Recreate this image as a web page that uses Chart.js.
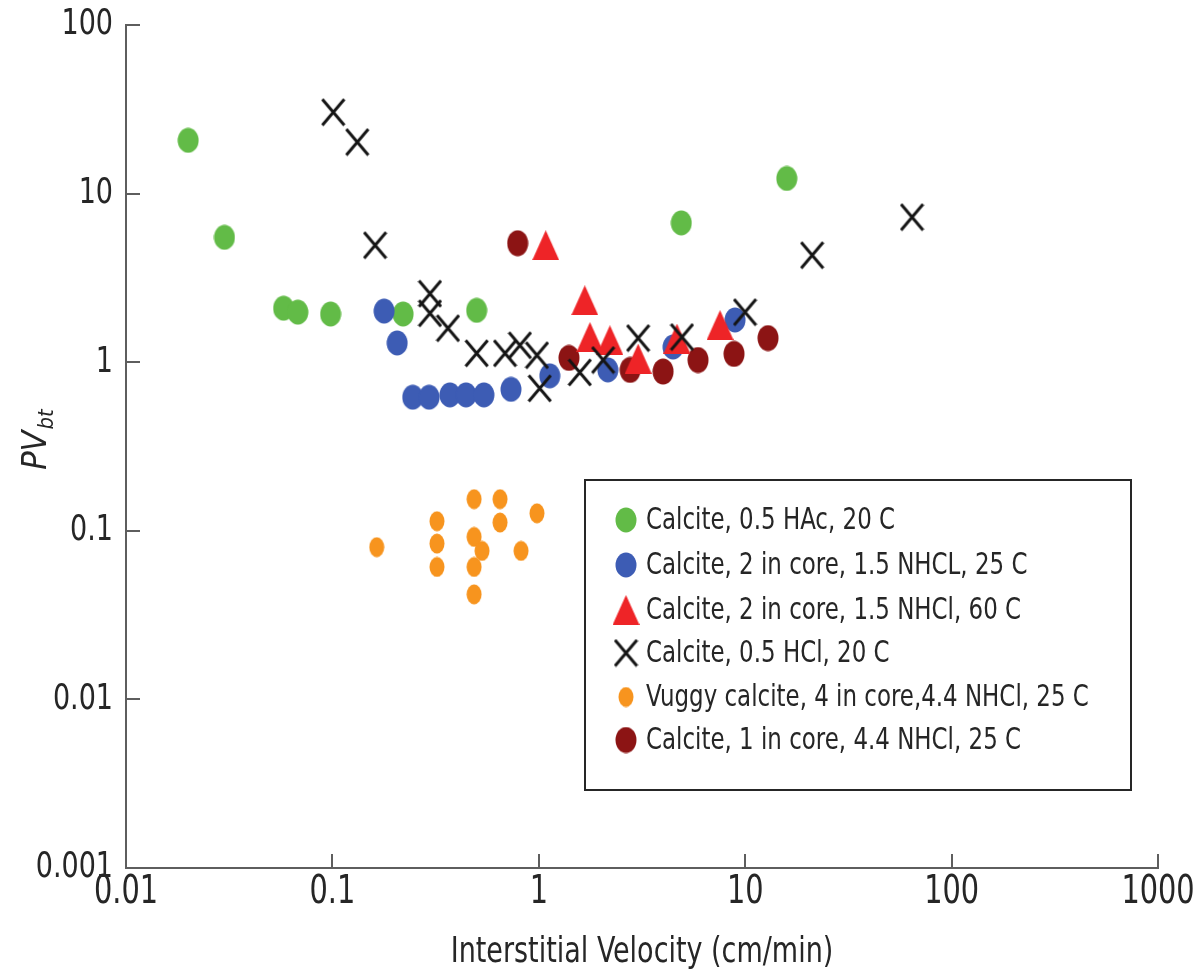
<!DOCTYPE html>
<html>
<head>
<meta charset="utf-8">
<script src="https://cdn.jsdelivr.net/npm/chart.js@4.4.1/dist/chart.umd.min.js"></script>
<style>
  html, body { margin: 0; padding: 0; background: #fff; }
  #wrap { width: 1202px; height: 972px; position: relative; }
</style>
</head>
<body>
<div id="wrap"><canvas id="pvChart"></canvas></div>
<script>
// Pore volumes to breakthrough vs interstitial velocity for calcite cores

// Calcite, 0.5 HAc, 20 C
const hacVelocity = [0.020, 0.030, 0.058, 0.068, 0.098, 0.22, 0.50, 4.9, 15.9];
const hacPV       = [20.7, 5.5, 2.09, 1.98, 1.93, 1.93, 2.03, 6.7, 12.3];

// Calcite, 2 in core, 1.5 NHCL, 25 C
const core2c25Velocity = [0.178, 0.206, 0.245, 0.294, 0.371, 0.444, 0.542, 0.733, 1.13, 2.16, 4.47, 8.93];
const core2c25PV       = [2.01, 1.30, 0.62, 0.62, 0.64, 0.64, 0.64, 0.69, 0.83, 0.90, 1.23, 1.78];

// Calcite, 2 in core, 1.5 NHCl, 60 C
const core2c60Velocity = [1.08, 1.67, 1.77, 2.21, 3.03, 4.67, 7.55];
const core2c60PV       = [4.94, 2.33, 1.41, 1.35, 1.05, 1.38, 1.66];

// Calcite, 0.5 HCl, 20 C
const hclVelocity = [0.101, 0.132, 0.161, 0.297, 0.297, 0.363, 0.50, 0.686, 0.81, 0.98, 1.01, 1.58, 2.05, 3.03, 4.94, 9.98, 21.1, 64.3];
const hclPV       = [30.4, 20.2, 4.94, 2.55, 1.95, 1.59, 1.13, 1.13, 1.26, 1.10, 0.70, 0.87, 1.03, 1.39, 1.41, 1.98, 4.31, 7.25];

// Vuggy calcite, 4 in core, 4.4 NHCl, 25 C
const vuggyVelocity = [0.164, 0.321, 0.321, 0.321, 0.486, 0.486, 0.531, 0.486, 0.486, 0.649, 0.649, 0.82, 0.98];
const vuggyPV       = [0.080, 0.114, 0.084, 0.061, 0.154, 0.092, 0.076, 0.061, 0.042, 0.154, 0.112, 0.076, 0.127];

// Calcite, 1 in core, 4.4 NHCl, 25 C
const core1Velocity = [0.79, 1.40, 2.77, 4.00, 5.91, 8.83, 12.9];
const core1PV       = [5.08, 1.06, 0.90, 0.88, 1.03, 1.12, 1.39];

const seriesLabels = [
    'Calcite, 0.5 HAc, 20 C',
    'Calcite, 2 in core, 1.5 NHCL, 25 C',
    'Calcite, 2 in core, 1.5 NHCl, 60 C',
    'Calcite, 0.5 HCl, 20 C',
    'Vuggy calcite, 4 in core,4.4 NHCl, 25 C',
    'Calcite, 1 in core, 4.4 NHCl, 25 C'
];

const xTickValues = [0.01, 0.1, 1, 10, 100, 1000];
const xTickLabels = ['0.01', '0.1', '1', '10', '100', '1000'];
const yTickValues = [0.001, 0.01, 0.1, 1, 10, 100];
const yTickLabels = ['0.001', '0.01', '0.1', '1', '10', '100'];
const xTitle = 'Interstitial Velocity (cm/min)';

const NARROW = '"Liberation Sans Narrow", "DejaVu Sans Condensed", "Arial Narrow", sans-serif';
const AXIS_COLOR = '#5e5e5e';
const TEXT_COLOR = '#262626';
const TEXT_STRETCH = 1.2;   // lettering is set tall and narrow

// Small bitmap markers (slightly taller than wide, like the printed symbols)
function marker(kind, w, h, color) {
    const c = document.createElement('canvas');
    c.width = w;
    c.height = h;
    const g = c.getContext('2d');
    g.fillStyle = color;
    g.strokeStyle = color;
    if (kind === 'ellipse') {
        g.beginPath();
        g.ellipse(w / 2, h / 2, w / 2 - 0.5, h / 2 - 0.5, 0, 0, Math.PI * 2);
        g.fill();
    } else if (kind === 'triangle') {
        g.beginPath();
        g.moveTo(w / 2, 0);
        g.lineTo(w, h);
        g.lineTo(0, h);
        g.closePath();
        g.fill();
    } else if (kind === 'x') {
        g.lineWidth = 3;
        g.beginPath();
        g.moveTo(1.5, 1.5);
        g.lineTo(w - 1.5, h - 1.5);
        g.moveTo(w - 1.5, 1.5);
        g.lineTo(1.5, h - 1.5);
        g.stroke();
    }
    return c;
}

const markers = [
    marker('ellipse', 22, 26, '#62bb47'),
    marker('ellipse', 22, 26, '#3d5cb4'),
    marker('triangle', 27, 30, '#ee2427'),
    marker('x', 25, 29, '#151515'),
    marker('ellipse', 16, 21, '#f7941e'),
    marker('ellipse', 22, 27, '#8c1414')
];

const toPoints = (xs, ys) => xs.map((x, i) => ({ x, y: ys[i] }));

const seriesPoints = [
    toPoints(hacVelocity, hacPV),
    toPoints(core2c25Velocity, core2c25PV),
    toPoints(core2c60Velocity, core2c60PV),
    toPoints(hclVelocity, hclPV),
    toPoints(vuggyVelocity, vuggyPV),
    toPoints(core1Velocity, core1PV)
];

// draw order: crosses on top, vuggy points at the back
const drawOrder = [4, 3, 1, 0, 5, 2];

function tallText(ctx, text, x, y, size, align, style) {
    ctx.save();
    ctx.font = (style ? style + ' ' : '') + size + 'px ' + NARROW;
    ctx.textAlign = align;
    ctx.textBaseline = 'middle';
    ctx.fillStyle = TEXT_COLOR;
    ctx.translate(x, y);
    ctx.scale(1, TEXT_STRETCH);
    ctx.fillText(text, 0, 0);
    ctx.restore();
}

// Inward tick marks, tick labels and x title
const axisDecor = {
    id: 'axisDecor',
    afterDraw(chart) {
        const { ctx, chartArea, scales } = chart;
        ctx.save();
        ctx.strokeStyle = AXIS_COLOR;
        ctx.lineWidth = 2;
        ctx.beginPath();
        xTickValues.forEach(v => {
            const px = Math.round(scales.x.getPixelForValue(v));
            ctx.moveTo(px, chartArea.bottom);
            ctx.lineTo(px, chartArea.bottom - 14);
        });
        yTickValues.forEach(v => {
            const py = Math.round(scales.y.getPixelForValue(v));
            ctx.moveTo(chartArea.left, py);
            ctx.lineTo(chartArea.left + 14, py);
        });
        ctx.stroke();
        ctx.restore();

        xTickValues.forEach((v, i) => {
            tallText(ctx, xTickLabels[i], scales.x.getPixelForValue(v), chartArea.bottom + 25, 32, 'center');
        });
        yTickValues.forEach((v, i) => {
            tallText(ctx, yTickLabels[i], chartArea.left - 13, scales.y.getPixelForValue(v), 30, 'right');
        });
        tallText(ctx, xTitle, (chartArea.left + chartArea.right) / 2, 953, 30, 'center');
    }
};

// Y axis title with subscript: PV_bt
const yTitle = {
    id: 'yTitle',
    afterDraw(chart) {
        const ctx = chart.ctx;
        ctx.save();
        ctx.translate(34, 440);
        ctx.rotate(-Math.PI / 2);
        ctx.fillStyle = TEXT_COLOR;
        ctx.textBaseline = 'alphabetic';
        ctx.font = 'italic 34px ' + NARROW;
        const wPV = ctx.measureText('PV').width;
        ctx.font = 'italic 22px ' + NARROW;
        const wSub = ctx.measureText('bt').width;
        const start = -(wPV + wSub) / 2;
        ctx.font = 'italic 34px ' + NARROW;
        ctx.fillText('PV', start, 12);
        ctx.font = 'italic 22px ' + NARROW;
        ctx.fillText('bt', start + wPV + 1, 19);
        ctx.restore();
    }
};

// Boxed legend sitting inside the plot area
const boxLegend = {
    id: 'boxLegend',
    afterDraw(chart) {
        const ctx = chart.ctx;
        const box = { left: 585, top: 480, right: 1131, bottom: 790 };
        const rowY = [520, 565, 610, 653, 697, 740];
        ctx.save();
        ctx.fillStyle = '#fff';
        ctx.fillRect(box.left, box.top, box.right - box.left, box.bottom - box.top);
        ctx.strokeStyle = '#262626';
        ctx.lineWidth = 2;
        ctx.strokeRect(box.left, box.top, box.right - box.left, box.bottom - box.top);
        ctx.restore();
        seriesLabels.forEach((label, i) => {
            const m = markers[i];
            ctx.drawImage(m, 626 - m.width / 2, rowY[i] - m.height / 2);
            tallText(ctx, label, 646, rowY[i] + 1, 25.5, 'left');
        });
    }
};

new Chart(document.getElementById('pvChart'), {
    type: 'scatter',
    data: {
        datasets: seriesPoints.map((pts, i) => ({
            label: seriesLabels[i],
            data: pts,
            pointStyle: markers[i],
            pointRadius: 12,
            pointHoverRadius: 12,
            order: drawOrder[i]
        }))
    },
    options: {
        responsive: true,
        maintainAspectRatio: false,
        animation: false,
        events: [],
        layout: { padding: { top: 25, right: 44, left: 0, bottom: 0 } },
        scales: {
            x: {
                type: 'logarithmic',
                position: 'bottom',
                min: 0.01,
                max: 1000,
                afterBuildTicks(scale) {
                    scale.ticks = xTickValues.map(v => ({ value: v }));
                },
                afterFit(scale) {
                    scale.height = 104;
                },
                grid: { drawOnChartArea: false, drawTicks: false },
                border: { display: true, color: AXIS_COLOR, width: 2 },
                ticks: { display: false }
            },
            y: {
                type: 'logarithmic',
                position: 'left',
                min: 0.001,
                max: 100,
                afterBuildTicks(scale) {
                    scale.ticks = yTickValues.map(v => ({ value: v }));
                },
                afterFit(scale) {
                    scale.width = 126;
                },
                grid: { drawOnChartArea: false, drawTicks: false },
                border: { display: true, color: AXIS_COLOR, width: 2 },
                ticks: { display: false }
            }
        },
        plugins: {
            legend: { display: false },
            tooltip: { enabled: false }
        }
    },
    plugins: [axisDecor, yTitle, boxLegend]
});
</script>
</body>
</html>
